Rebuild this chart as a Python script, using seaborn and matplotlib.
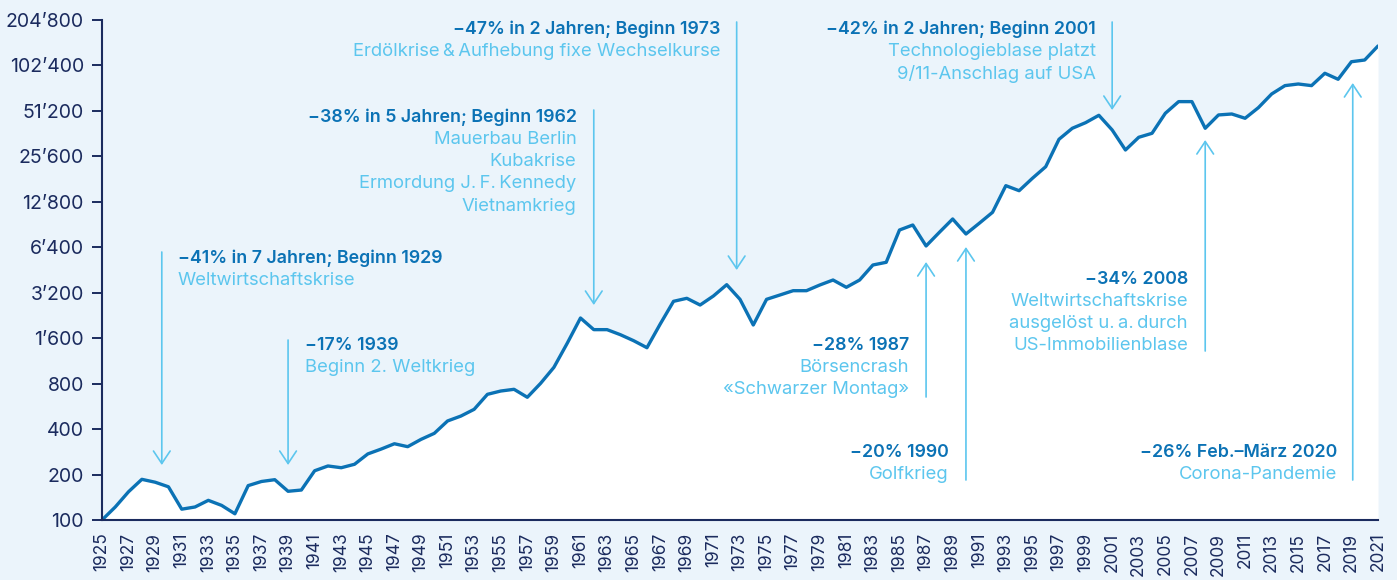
import matplotlib
matplotlib.use("Agg")
import matplotlib.pyplot as plt
import seaborn as sns
import pandas as pd

# index values (start 1925 = 100)
years = list(range(1925, 2022))
values = [
    100, 122, 154, 186, 178, 166, 118, 122, 135, 125,      # 1925-1934
    110, 169, 180, 185, 155, 158, 212, 228, 222, 234,      # 1935-1944
    274, 295, 320, 306, 342, 375, 453, 488, 541, 680,      # 1945-1954
    715, 734, 650, 804, 1026, 1480, 2177, 1823, 1823, 1688,  # 1955-1964
    1540, 1384, 1987, 2808, 2940, 2654, 3045, 3618, 2895, 1957,  # 1965-1974
    2895, 3091, 3302, 3302, 3600, 3886, 3477, 3886, 4886, 5090,  # 1975-1984
    8330, 8990, 6530, 8040, 9855, 7840, 9230, 10910, 16380, 15170,  # 1985-1994
    18330, 21870, 33220, 39290, 42800, 47900, 38300, 28220, 34250, 36400,  # 1995-2004
    49400, 59000, 59000, 39290, 48150, 48860, 45770, 53800, 66300, 75300,  # 2005-2014
    77200, 75300, 90900, 82950, 108400, 111300, 137800,   # 2015-2021
]
y_ticks = [100 * 2 ** k for k in range(12)]
y_ticklabels = ["{:,}".format(v).replace(",", "\u2019") for v in y_ticks]
x_ticks = list(range(1925, 2022, 2))

# annotations: (headline, body lines, text x, text y, ha, arrow x, arrow from, arrow to)
notes = [
    ("\u221241% in 7 Jahren; Beginn 1929", ["Weltwirtschaftskrise"], 1930.7, 0.524, "left", 1929.5, 0.536, 0.11),
    ("\u221217% 1939", ["Beginn 2. Weltkrieg"], 1940.3, 0.35, "left", 1939, 0.36, 0.11),
    ("\u221238% in 5 Jahren; Beginn 1962",
     ["Mauerbau Berlin", "Kubakrise", "Ermordung J.\u2009F.\u2009Kennedy", "Vietnamkrieg"],
     1960.7, 0.806, "right", 1962, 0.82, 0.43),
    ("\u221247% in 2 Jahren; Beginn 1973", ["Erdölkrise\u2009&\u2009Aufhebung fixe Wechselkurse"],
     1971.5, 0.982, "right", 1972.75, 0.996, 0.50),
    ("\u221242% in 2 Jahren; Beginn 2001", ["Technologieblase platzt", "9/11-Anschlag auf USA"],
     1999.8, 0.982, "right", 2001, 0.996, 0.82),
    ("\u221228% 1987", ["Börsencrash", "\u00abSchwarzer Montag\u00bb"], 1985.7, 0.35, "right", 1987, 0.246, 0.516),
    ("\u221220% 1990", ["Golfkrieg"], 1988.7, 0.136, "right", 1990, 0.08, 0.546),
    ("\u221234% 2008", ["Weltwirtschaftskrise", "ausgelöst u.\u2009a.\u2009durch", "US-Immobilienblase"],
     2006.7, 0.482, "right", 2008, 0.338, 0.76),
    ("\u221226% Feb.\u2013März 2020", ["Corona-Pandemie"], 2017.9, 0.136, "right", 2019.1, 0.08, 0.874),
]

bg = "#EBF4FB"
navy = "#1B2B5E"
line_c = "#0B72B5"
light = "#5CC6EE"

sns.set_theme(style="white")
plt.rcParams["font.family"] = ["Inter", "DejaVu Sans"]

df = pd.DataFrame({"year": years, "value": values})

fig = plt.figure(figsize=(13.97, 5.8), dpi=100, facecolor=bg)
ax = fig.add_axes([0.073, 0.1034, 0.9134, 0.8621])
ax.set_facecolor(bg)

ax.fill_between(df["year"], df["value"], 100, color="white", lw=0, zorder=1)
sns.lineplot(data=df, x="year", y="value", ax=ax, color=line_c, lw=2.4, zorder=3)

ax.set_yscale("log", base=2)
ax.set_ylim(100, 204800)
ax.set_xlim(1925, 2021)
ax.set_yticks(y_ticks)
ax.set_yticklabels(y_ticklabels)
ax.minorticks_off()
ax.set_xticks(x_ticks)
ax.set_xticklabels([str(y) for y in x_ticks], rotation=90)
ax.set_xlabel("")
ax.set_ylabel("")

for s in ["top", "right"]:
    ax.spines[s].set_visible(False)
for s in ["left", "bottom"]:
    ax.spines[s].set_color(navy)
    ax.spines[s].set_linewidth(1.5)
    ax.spines[s].set_zorder(4)
ax.tick_params(axis="y", length=7, width=1.4, color=navy, labelcolor=navy, labelsize=14, pad=6, left=True)
ax.tick_params(axis="x", length=0, labelcolor=navy, labelsize=12.5, pad=9)

trans = ax.get_xaxis_transform()
for head, body, tx, ty, ha, axx, y0, y1 in notes:
    ax.annotate("", xy=(axx, y1), xytext=(axx, y0), xycoords=trans, textcoords=trans,
                arrowprops=dict(arrowstyle="->,head_length=0.45,head_width=0.3", color=light,
                                lw=1.2, shrinkA=0, shrinkB=0, mutation_scale=20), zorder=2)
    ax.text(tx, ty, head, transform=trans, ha=ha, va="center", fontsize=12.8,
            fontweight="semibold", color=line_c, zorder=5)
    for i, b in enumerate(body):
        ax.text(tx, ty - (i + 1) * 0.0445, b, transform=trans, ha=ha, va="center",
                fontsize=13.3, color=light, zorder=5)

fig.savefig("out.png", dpi=100, facecolor=bg)
